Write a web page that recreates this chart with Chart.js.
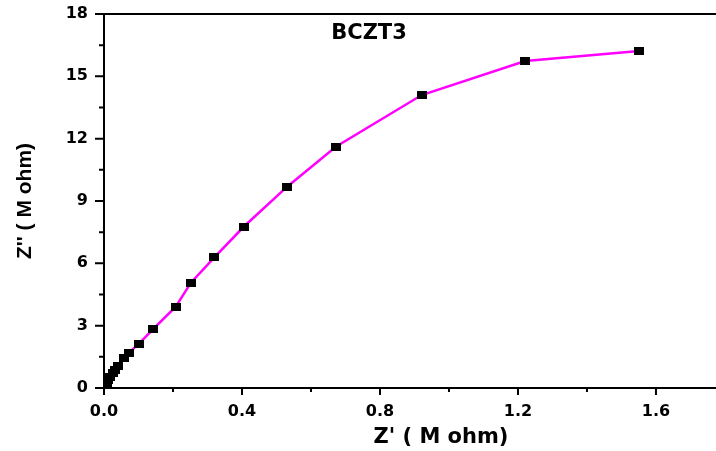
<!DOCTYPE html>
<html>
<head>
<meta charset="utf-8">
<script src="https://cdn.jsdelivr.net/npm/chart.js@4/dist/chart.umd.min.js"></script>
<style>
  html, body { margin: 0; padding: 0; background: #fff; }
  canvas { display: block; }
</style>
</head>
<body>
<canvas id="nyquist" width="716" height="451"></canvas>
<script>
/* BCZT3 impedance (Nyquist) plot: Z'' vs Z' in M ohm */

const zReal = [0.005, 0.008, 0.012, 0.017, 0.025, 0.032, 0.041, 0.058, 0.072, 0.101,
  0.143, 0.208, 0.252, 0.320, 0.405, 0.531, 0.672, 0.921, 1.221, 1.551];
const zImag = [0.10, 0.22, 0.38, 0.54, 0.71, 0.87, 1.06, 1.43, 1.70, 2.12,
  2.84, 3.91, 5.07, 6.29, 7.76, 9.69, 11.61, 14.10, 15.74, 16.22];

const xTicks = [0, 0.4, 0.8, 1.2, 1.6];
const xMinor = [0.2, 0.6, 1.0, 1.4];
const yTicks = [0, 3, 6, 9, 12, 15, 18];
const yMinor = [1.5, 4.5, 7.5, 10.5, 13.5, 16.5];

const sampleName = 'BCZT3';
const xTitle = "Z' ( M ohm)";
const yTitle = "Z'' ( M ohm)";

// black rectangular marker, a bit wider than tall
const marker = document.createElement('canvas');
marker.width = 10; marker.height = 8;
const mctx = marker.getContext('2d');
mctx.fillStyle = '#000';
mctx.fillRect(0, 0, 10, 8);

const decor = {
  id: 'decor',
  afterDraw(chart) {
    const { ctx, chartArea: a, scales: { x, y } } = chart;
    ctx.save();
    ctx.strokeStyle = '#000';
    ctx.lineWidth = 2;
    ctx.beginPath();
    ctx.moveTo(a.left, a.top); ctx.lineTo(a.right, a.top);
    yTicks.forEach((v) => { const p = y.getPixelForValue(v); ctx.moveTo(a.left - 9, p); ctx.lineTo(a.left, p); });
    yMinor.forEach((v) => { const p = y.getPixelForValue(v); ctx.moveTo(a.left - 5, p); ctx.lineTo(a.left, p); });
    xTicks.forEach((v) => { const p = x.getPixelForValue(v); ctx.moveTo(p, a.bottom); ctx.lineTo(p, a.bottom + 7); });
    xMinor.forEach((v) => { const p = x.getPixelForValue(v); ctx.moveTo(p, a.bottom); ctx.lineTo(p, a.bottom + 4); });
    ctx.stroke();

    ctx.fillStyle = '#000';
    ctx.textAlign = 'center';
    ctx.textBaseline = 'alphabetic';
    ctx.font = 'bold 21px "DejaVu Sans"';
    ctx.fillText(sampleName, 369, 39);
    ctx.fillText(xTitle, 441, 443);
    ctx.restore();
  },
};

const tickFont = { family: '"DejaVu Sans"', size: 16, weight: 'bold' };

new Chart(document.getElementById('nyquist'), {
  type: 'scatter',
  data: {
    datasets: [{
      data: zReal.map((v, i) => ({ x: v, y: zImag[i] })),
      showLine: true,
      borderColor: '#ff00ff',
      borderWidth: 2.5,
      pointStyle: marker,
      pointRadius: 5,
      backgroundColor: '#000',
    }],
  },
  options: {
    responsive: false,
    devicePixelRatio: 1,
    animation: false,
    layout: { autoPadding: false, padding: { top: 14, right: 0, left: 0, bottom: 0 } },
    plugins: { legend: { display: false }, tooltip: { enabled: false } },
    scales: {
      x: {
        type: 'linear', min: 0, max: 1.774,
        afterBuildTicks: (s) => { s.ticks = xTicks.map((v) => ({ value: v })); },
        afterFit: (s) => { s.height = 63; s.paddingLeft = 0; s.paddingRight = 0; },
        grid: { display: false, drawTicks: false },
        border: { color: '#000', width: 2 },
        ticks: { color: '#000', font: tickFont, padding: 14, maxRotation: 0, autoSkip: false, callback: (v) => v.toFixed(1) },
      },
      y: {
        type: 'linear', min: 0, max: 18,
        afterBuildTicks: (s) => { s.ticks = yTicks.map((v) => ({ value: v })); },
        afterFit: (s) => { s.width = 104; s.paddingTop = 0; s.paddingBottom = 0; },
        grid: { display: false, drawTicks: false },
        border: { color: '#000', width: 2 },
        ticks: { color: '#000', font: tickFont, padding: 16, autoSkip: false, callback: (v) => String(v) },
        title: {
          display: true, text: yTitle, color: '#000',
          font: { family: '"Liberation Sans"', size: 21, weight: 'bold' },
          padding: { top: 13, bottom: 0 },
        },
      },
    },
  },
  plugins: [decor],
});
</script>
</body>
</html>
